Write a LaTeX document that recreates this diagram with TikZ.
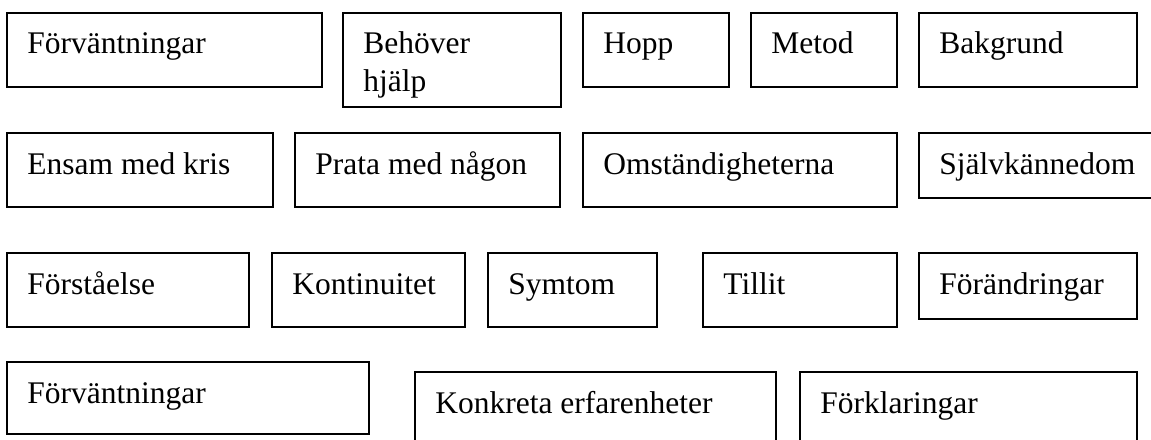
\documentclass[tikz,border=0pt]{standalone}
\usepackage{fontspec}
\setmainfont{Liberation Serif}
\usetikzlibrary{positioning}

\tikzset{
  box/.style={draw, line width=1pt, rectangle, anchor=north west, inner sep=0pt, outer sep=0pt},
  lbl/.style={anchor=base west, inner sep=0pt, font=\fontsize{15.75}{19}\selectfont}
}

\begin{document}
\begin{tikzpicture}[x=0.5pt, y=-0.5pt]
        \useasboundingbox (0,0) rectangle (1151,439);

        % name / left / top / width / height / text  (in pixels of the page)
        \foreach \name/\x/\y/\w/\h/\txt in {
                fvA/7/13/315/74/Förväntningar,
                beh/343/13/218/94/{Behöver\\hjälp},
                hopp/583/13/146/74/Hopp,
                metod/751/13/146/74/Metod,
                bakg/919/13/218/74/Bakgrund,
                ensam/7/133/266/74/Ensam med kris,
                prata/295/133/265/74/Prata med någon,
                omst/583/133/314/74/Omständigheterna,
                sjalv/919/133/250/65/Självkännedom,
                forst/7/253/242/74/Förståelse,
                kont/272/253/193/74/Kontinuitet,
                symt/488/253/169/74/Symtom,
                till/703/253/194/74/Tillit,
                forand/919/253/218/66/Förändringar,
                fvB/7/362/362/72/Förväntningar,
                konk/415/372/361/80/Konkreta erfarenheter,
                fork/800/372/337/80/Förklaringar}
        {
                \node[box, minimum width=\w*0.5pt, minimum height=\h*0.5pt] (\name) at (\x,\y) {};
                \node[lbl] (\name-t) at ([xshift=10pt, yshift=-20.5pt]\name.north west)
                        {\begin{tabular}[t]{@{}l@{}}\txt\end{tabular}};
        }

\end{tikzpicture}
\end{document}
